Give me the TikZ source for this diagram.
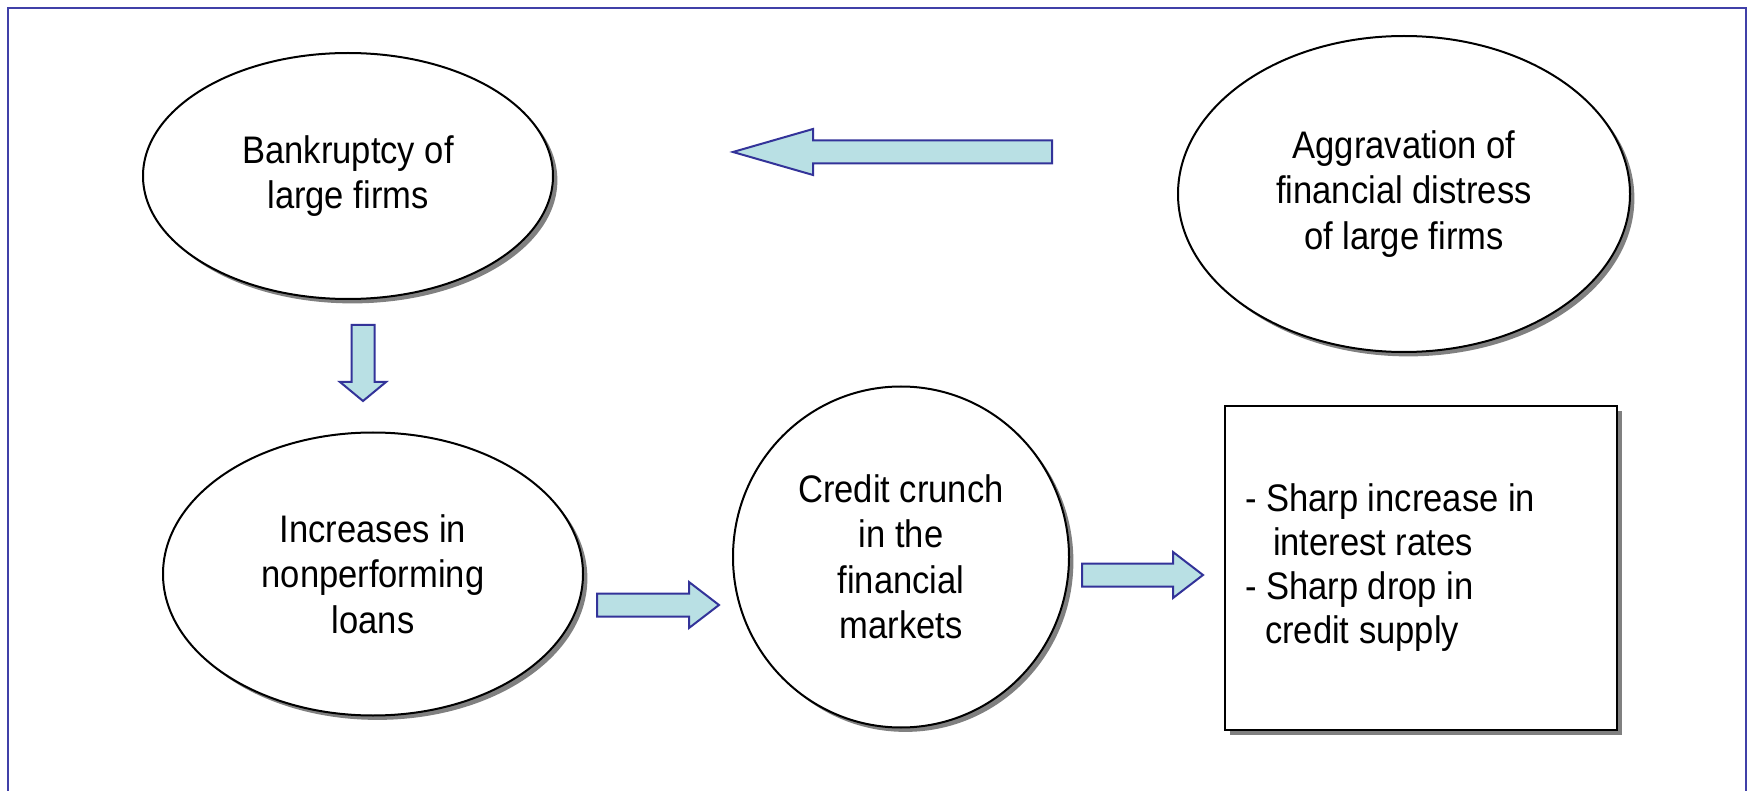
\documentclass[tikz,border=0pt]{standalone}
\usepackage{fontspec}
\setmainfont[FakeStretch=0.9]{Liberation Sans}
\usetikzlibrary{shapes.geometric,shadows,calc}

\definecolor{arrowfill}{RGB}{185,224,228}
\definecolor{arrowline}{RGB}{51,51,153}
\definecolor{framecol}{RGB}{64,64,168}

\tikzset{
  bubble/.style={ellipse,draw,line width=1pt,fill=white,inner sep=0pt,align=center,
    font=\fontsize{19.2pt}{22.75pt}\selectfont,
    drop shadow={shadow xshift=2.2pt,shadow yshift=-2.2pt,fill=black!50,opacity=1}},
  resultbox/.style={rectangle,draw,line width=1pt,fill=white,align=flush left,
    text width=176pt,inner xsep=10pt,minimum height=161.5pt,
    font=\fontsize{19.2pt}{22pt}\selectfont,
    drop shadow={shadow xshift=2.5pt,shadow yshift=-2.5pt,fill=black!50,opacity=1}},
  fatarrow/.style={draw=arrowline,fill=arrowfill,line width=1pt,line join=miter},
  frameline/.style={draw=framecol,line width=1.2pt}
}

% block arrow from tail #1 to tip #2, head length #3
\newcommand{\blockarrow}[3]{%
  \coordinate (#1base) at ($(#2)!#3!(#1)$);
  \draw[fatarrow] ($(#1)!5.75pt!90:(#2)$) -- ($(#1base)!5.75pt!90:(#2)$)
    -- ($(#1base)!11.5pt!90:(#2)$) -- (#2)
    -- ($(#1base)!11.5pt!-90:(#2)$) -- ($(#1base)!5.75pt!-90:(#2)$)
    -- ($(#1)!5.75pt!-90:(#2)$) -- cycle;
}

\begin{document}
\begin{tikzpicture}[x=0.5pt,y=-0.5pt]
\useasboundingbox (0,0) rectangle (1747,791);
\draw[frameline] (8,791) -- (8,8) -- (1746,8) -- (1746,791);

% the four stages
\node[bubble,minimum width=205pt,minimum height=123pt] (bankrupt) at (348,176)
  {Bankruptcy of\\large firms};
\node[bubble,minimum width=226pt,minimum height=158pt] (distress) at (1404,194)
  {Aggravation of\\financial distress\\of large firms};
\node[bubble,minimum width=210pt,minimum height=141.5pt] (loans) at (373,574)
  {Increases in\\nonperforming\\loans};
\node[bubble,minimum width=168pt,minimum height=170.5pt] (crunch) at (901,557)
  {Credit crunch\\in the\\financial\\markets};
\node[resultbox] (result) at (1421,568)
  {- Sharp increase in\\\hspace*{14pt}interest rates\\- Sharp drop in\\\hspace*{10pt}credit supply};

% arrows
\coordinate (dt) at (1052,152);
\coordinate (dh) at (733,152);
\coordinate (bt) at (363,325);
\coordinate (bh) at (363,401);
\coordinate (lt) at (597,605);
\coordinate (lh) at (719,605);
\coordinate (ct) at (1082,575);
\coordinate (ch) at (1203,575);
\blockarrow{dt}{dh}{40pt}
\blockarrow{bt}{bh}{9.5pt}
\blockarrow{lt}{lh}{15pt}
\blockarrow{ct}{ch}{15pt}
\end{tikzpicture}
\end{document}
